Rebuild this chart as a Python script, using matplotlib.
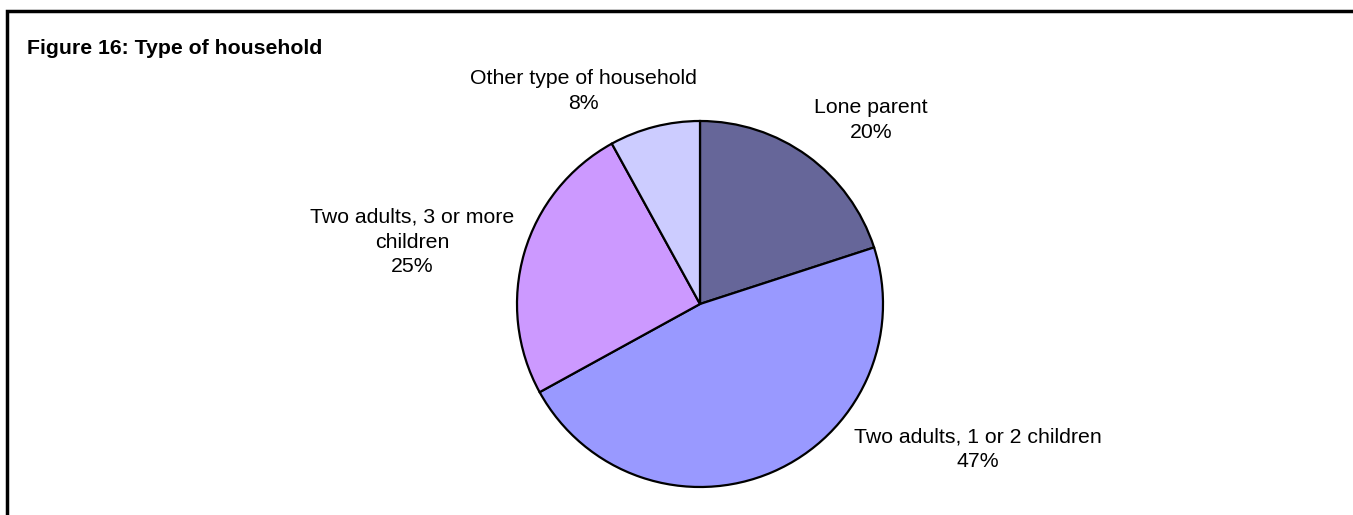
import matplotlib
matplotlib.use("Agg")
import matplotlib.pyplot as plt
from matplotlib.patches import Rectangle

plt.rcParams['font.family'] = ['Liberation Sans', 'DejaVu Sans']

title = "Figure 16: Type of household"
categories = ["Lone parent", "Two adults, 1 or 2 children",
              "Two adults, 3 or more\nchildren", "Other type of household"]
values = [20, 47, 25, 8]
colors = ["#666699", "#9999FF", "#CC99FF", "#CCCCFF"]

W, H = 1353, 515
fig = plt.figure(figsize=(W / 100, H / 100), dpi=100)
fig.patch.set_facecolor("white")

# border (top-left corner visible, extends beyond right/bottom)
fig.add_artist(Rectangle((7 / W, -0.1), 1.2, (H - 11) / H + 0.1, transform=fig.transFigure,
                         fill=False, edgecolor="black", linewidth=2.5))

fig.text(27 / W, 1 - 48 / H, title, fontsize=15.3, fontweight="bold", va="center", ha="left")

R = 183
cx, cy = 700, 304
ax = fig.add_axes([(cx - R) / W, 1 - (cy + R) / H, 2 * R / W, 2 * R / H])
wedges, _ = ax.pie(values, colors=colors, startangle=90, counterclock=False,
                   wedgeprops=dict(edgecolor="black", linewidth=1.6))
ax.set_xlim(-1, 1)
ax.set_ylim(-1, 1)
ax.set_aspect("auto")
ax.axis("off")

label_pos = [(871, 120), (978, 449), (412, 242), (583, 91)]
for cat, v, (x, y) in zip(categories, values, label_pos):
    fig.text(x / W, 1 - y / H, f"{cat}\n{v}%", ha="center", va="center",
             fontsize=15.3, linespacing=1.38)

fig.savefig("out.png", dpi=100, facecolor="white")
